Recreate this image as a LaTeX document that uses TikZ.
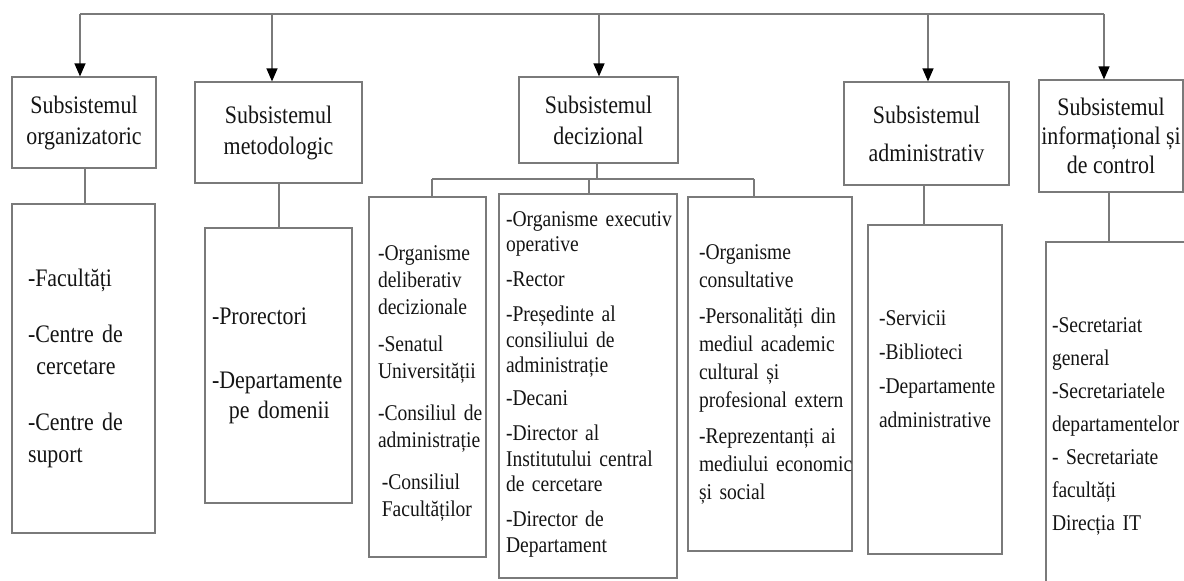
\documentclass[tikz,border=0pt]{standalone}
\usepackage{fontspec}
\setmainfont{Liberation Serif}[FakeStretch=0.87]
\usetikzlibrary{arrows.meta}
\definecolor{linegray}{HTML}{7A7A7A}
\definecolor{txt}{HTML}{141414}
\newcommand{\ml}[1]{\mbox{#1}}
\hfuzz=300pt
\begin{document}
\begin{tikzpicture}[x=1pt,y=-1pt,
  every node/.style={text=txt},
  box/.style={draw=linegray, line width=1.2pt, rectangle, inner sep=0pt},
  topbox/.style={box, align=center, font=\fontsize{25.2}{31}\selectfont},
  listbox/.style={box, align=left, inner ysep=0pt},
  conn/.style={draw=linegray, line width=1.2pt},
  arr/.style={conn, -{Triangle[width=11pt,length=13pt,color=black,fill=black]}}
]
\useasboundingbox (0,0) rectangle (1184,581);
\clip (0,0) rectangle (1184,581);

% top boxes
\node[topbox, minimum width=144pt, minimum height=91pt] (s1) at (84,122.5) {Subsistemul\\organizatoric};
\node[topbox, minimum width=167pt, minimum height=101pt] (s2) at (278.5,132.5) {Subsistemul\\metodologic};
\node[topbox, minimum width=159pt, minimum height=86pt] (s3) at (598.5,120) {Subsistemul\\decizional};
\node[topbox, minimum width=165pt, minimum height=103pt, font=\fontsize{25.2}{38}\selectfont] (s4) at (926.5,133.5) {Subsistemul\\administrativ};
\node[topbox, minimum width=144pt, minimum height=112pt, font=\fontsize{25.2}{29}\selectfont] (s5) at (1111,136) {Subsistemul\\informațional și\\de control};

% lower boxes
\node[listbox, font=\fontsize{25.2}{32}\selectfont, text width=111pt, inner xsep=16pt, minimum height=329pt] (o1) at (83.5,368.5)
  {\ml{-Facultăți}\\[24pt]\ml{-Centre de}\\\ml{\ cercetare}\\[24pt]\ml{-Centre de}\\\ml{suport}};
\node[listbox, font=\fontsize{25.2}{30}\selectfont, text width=133pt, inner xsep=7pt, minimum height=275pt] (o2) at (278.5,365.5)
  {\ml{-Prorectori}\\[34pt]\ml{-Departamente}\\\ml{\ \ pe domenii}};

\node[listbox, font=\fontsize{22.5}{27}\selectfont, text width=99pt, inner xsep=9pt, minimum height=360pt] (da) at (427.5,377)
  {\ml{\rule{0pt}{28pt}-Organisme}\\\ml{deliberativ}\\\ml{decizionale}\\[10pt]\ml{-Senatul}\\\ml{Universității}\\[15pt]\ml{-Consiliul de}\\\ml{administrație}\\[15pt]\ml{\,-Consiliul}\\\ml{\,Facultăților}};
\node[listbox, font=\fontsize{22.5}{25.5}\selectfont, text width=164pt, inner xsep=7pt, minimum height=384pt] (db) at (588,386)
  {\ml{-Organisme executiv}\\\ml{operative}\\[9.5pt]\ml{-Rector}\\[9.5pt]\ml{-Președinte al}\\\ml{consiliului de}\\\ml{administrație}\\[7.5pt]\ml{-Decani}\\[9.5pt]\ml{-Director al}\\\ml{Institutului central}\\\ml{de cercetare}\\[9.5pt]\ml{-Director de}\\\ml{Departament\rule[-8pt]{0pt}{8pt}}};
\node[listbox, font=\fontsize{22.5}{28}\selectfont, text width=142pt, inner xsep=11pt, minimum height=354pt] (dc) at (770,374)
  {\ml{-Organisme}\\\ml{consultative}\\[8pt]\ml{-Personalități din}\\\ml{mediul academic}\\\ml{cultural și}\\\ml{profesional extern}\\[8pt]\ml{-Reprezentanți ai}\\\ml{mediului economic}\\\ml{și social}};

\node[listbox, font=\fontsize{22.5}{34}\selectfont, text width=112pt, inner xsep=11pt, minimum height=329pt] (o4) at (935,389.5)
  {\ml{-Servicii}\\\ml{-Biblioteci}\\\ml{-Departamente}\\\ml{administrative\rule[-40pt]{0pt}{40pt}}};
\node[listbox, font=\fontsize{22.5}{33}\selectfont, text width=142pt, inner xsep=6pt, minimum height=368pt] (o5) at (1123,426)
  {\ml{-Secretariat}\\\ml{general}\\\ml{-Secretariatele}\\\ml{departamentelor}\\\ml{- Secretariate}\\\ml{facultăți}\\\ml{Direcția IT}};

% top bus and arrows
\coordinate (a1) at (80,14);
\coordinate (a2) at (272,14);
\coordinate (a3) at (599,14);
\coordinate (a4) at (928,14);
\coordinate (a5) at (1104,14);
\draw[conn] (a1) -- (a5);
\draw[arr] (a1) -- (a1 |- s1.north);
\draw[arr] (a2) -- (a2 |- s2.north);
\draw[arr] (a3) -- (a3 |- s3.north);
\draw[arr] (a4) -- (a4 |- s4.north);
\draw[arr] (a5) -- (a5 |- s5.north);

% drops
\coordinate (c1) at (85,0);
\coordinate (c2) at (279,0);
\coordinate (c4) at (924,0);
\coordinate (c5) at (1109,0);
\draw[conn] (c1 |- s1.south) -- (c1 |- o1.north);
\draw[conn] (c2 |- s2.south) -- (c2 |- o2.north);
\draw[conn] (c4 |- s4.south) -- (c4 |- o4.north);
\draw[conn] (c5 |- s5.south) -- (c5 |- o5.north);

% decisional bus
\coordinate (dstem) at (597,179);
\coordinate (dl) at (432,179);
\coordinate (dm) at (589,179);
\coordinate (dr) at (754,179);
\draw[conn] (dstem |- s3.south) -- (dstem);
\draw[conn] (dl) -- (dr);
\draw[conn] (dl) -- (dl |- da.north);
\draw[conn] (dm) -- (dm |- db.north);
\draw[conn] (dr) -- (dr |- dc.north);
\end{tikzpicture}
\end{document}
